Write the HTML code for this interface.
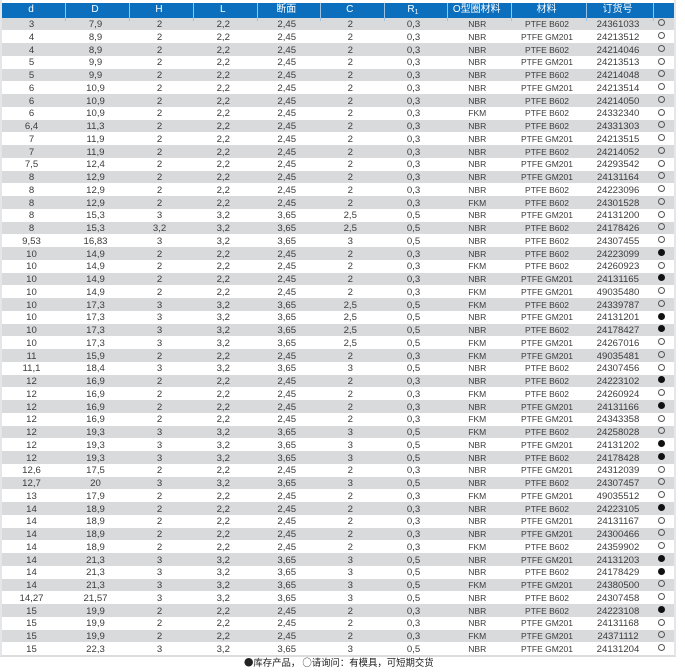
<!DOCTYPE html>
<html><head><meta charset="utf-8"><style>
*{margin:0;padding:0;box-sizing:border-box}
html,body{width:685px;height:672px;background:#fff;overflow:hidden}
body{position:relative;font-family:"Liberation Sans","Noto Sans CJK SC",sans-serif;color:#3c3c3c}
.frame{position:absolute;left:0;top:0;width:676px;height:657px;border-left:2px solid #e4e6ea;border-right:2px solid #e4e6ea;border-bottom:2px solid #dcdcdc}
.tbl{position:absolute;left:2px;top:3px;width:672px}
.r,.h{display:grid;grid-template-columns:64px 64px 64px 63.5px 63.5px 63.5px 63px 64.5px 75px 67px 20px}
.h{height:14.5px;background:#0b6fbe;color:#fff;font-size:10px;line-height:14.5px}
.h span{border-right:1px solid #9cc3e6;text-align:center;padding-right:5px;white-space:nowrap}
.h span:last-child{border-right:none}
.r{height:12.75px;line-height:12.75px;font-size:9.6px}
.r:nth-child(even){background:#d9dadb}
.r span{text-align:center;padding-right:5px;white-space:nowrap;position:relative;top:1.5px}
.r span:nth-child(8),.r span:nth-child(9){font-size:8.5px;top:0.7px}
.r span:nth-child(11){top:0}
.o,.f{display:inline-block;width:7px;height:7px;border-radius:50%;vertical-align:middle;margin-top:0}
.o{border:1px solid #555}
.f{background:#111}
sub{font-size:7px;vertical-align:-2px}
.foot{position:absolute;left:244px;top:655.5px;font-family:"Noto Sans CJK SC",sans-serif;font-size:9.4px;line-height:13px;color:#222;white-space:nowrap}
</style></head><body>
<div class="frame"></div>
<div class="tbl">
<div class="h"><span>d</span><span>D</span><span>H</span><span>L</span><span>断面</span><span>C</span><span>R<sub>1</sub></span><span>O型圈材料</span><span>材料</span><span>订货号</span><span></span></div>
<div class="r"><span>3</span><span>7,9</span><span>2</span><span>2,2</span><span>2,45</span><span>2</span><span>0,3</span><span>NBR</span><span>PTFE B602</span><span>24361033</span><span><b class="o"></b></span></div>
<div class="r"><span>4</span><span>8,9</span><span>2</span><span>2,2</span><span>2,45</span><span>2</span><span>0,3</span><span>NBR</span><span>PTFE GM201</span><span>24213512</span><span><b class="o"></b></span></div>
<div class="r"><span>4</span><span>8,9</span><span>2</span><span>2,2</span><span>2,45</span><span>2</span><span>0,3</span><span>NBR</span><span>PTFE B602</span><span>24214046</span><span><b class="o"></b></span></div>
<div class="r"><span>5</span><span>9,9</span><span>2</span><span>2,2</span><span>2,45</span><span>2</span><span>0,3</span><span>NBR</span><span>PTFE GM201</span><span>24213513</span><span><b class="o"></b></span></div>
<div class="r"><span>5</span><span>9,9</span><span>2</span><span>2,2</span><span>2,45</span><span>2</span><span>0,3</span><span>NBR</span><span>PTFE B602</span><span>24214048</span><span><b class="o"></b></span></div>
<div class="r"><span>6</span><span>10,9</span><span>2</span><span>2,2</span><span>2,45</span><span>2</span><span>0,3</span><span>NBR</span><span>PTFE GM201</span><span>24213514</span><span><b class="o"></b></span></div>
<div class="r"><span>6</span><span>10,9</span><span>2</span><span>2,2</span><span>2,45</span><span>2</span><span>0,3</span><span>NBR</span><span>PTFE B602</span><span>24214050</span><span><b class="o"></b></span></div>
<div class="r"><span>6</span><span>10,9</span><span>2</span><span>2,2</span><span>2,45</span><span>2</span><span>0,3</span><span>FKM</span><span>PTFE B602</span><span>24332340</span><span><b class="o"></b></span></div>
<div class="r"><span>6,4</span><span>11,3</span><span>2</span><span>2,2</span><span>2,45</span><span>2</span><span>0,3</span><span>NBR</span><span>PTFE B602</span><span>24331303</span><span><b class="o"></b></span></div>
<div class="r"><span>7</span><span>11,9</span><span>2</span><span>2,2</span><span>2,45</span><span>2</span><span>0,3</span><span>NBR</span><span>PTFE GM201</span><span>24213515</span><span><b class="o"></b></span></div>
<div class="r"><span>7</span><span>11,9</span><span>2</span><span>2,2</span><span>2,45</span><span>2</span><span>0,3</span><span>NBR</span><span>PTFE B602</span><span>24214052</span><span><b class="o"></b></span></div>
<div class="r"><span>7,5</span><span>12,4</span><span>2</span><span>2,2</span><span>2,45</span><span>2</span><span>0,3</span><span>NBR</span><span>PTFE GM201</span><span>24293542</span><span><b class="o"></b></span></div>
<div class="r"><span>8</span><span>12,9</span><span>2</span><span>2,2</span><span>2,45</span><span>2</span><span>0,3</span><span>NBR</span><span>PTFE GM201</span><span>24131164</span><span><b class="o"></b></span></div>
<div class="r"><span>8</span><span>12,9</span><span>2</span><span>2,2</span><span>2,45</span><span>2</span><span>0,3</span><span>NBR</span><span>PTFE B602</span><span>24223096</span><span><b class="o"></b></span></div>
<div class="r"><span>8</span><span>12,9</span><span>2</span><span>2,2</span><span>2,45</span><span>2</span><span>0,3</span><span>FKM</span><span>PTFE B602</span><span>24301528</span><span><b class="o"></b></span></div>
<div class="r"><span>8</span><span>15,3</span><span>3</span><span>3,2</span><span>3,65</span><span>2,5</span><span>0,5</span><span>NBR</span><span>PTFE GM201</span><span>24131200</span><span><b class="o"></b></span></div>
<div class="r"><span>8</span><span>15,3</span><span>3,2</span><span>3,2</span><span>3,65</span><span>2,5</span><span>0,5</span><span>NBR</span><span>PTFE B602</span><span>24178426</span><span><b class="o"></b></span></div>
<div class="r"><span>9,53</span><span>16,83</span><span>3</span><span>3,2</span><span>3,65</span><span>3</span><span>0,5</span><span>NBR</span><span>PTFE B602</span><span>24307455</span><span><b class="o"></b></span></div>
<div class="r"><span>10</span><span>14,9</span><span>2</span><span>2,2</span><span>2,45</span><span>2</span><span>0,3</span><span>NBR</span><span>PTFE B602</span><span>24223099</span><span><b class="f"></b></span></div>
<div class="r"><span>10</span><span>14,9</span><span>2</span><span>2,2</span><span>2,45</span><span>2</span><span>0,3</span><span>FKM</span><span>PTFE B602</span><span>24260923</span><span><b class="o"></b></span></div>
<div class="r"><span>10</span><span>14,9</span><span>2</span><span>2,2</span><span>2,45</span><span>2</span><span>0,3</span><span>NBR</span><span>PTFE GM201</span><span>24131165</span><span><b class="f"></b></span></div>
<div class="r"><span>10</span><span>14,9</span><span>2</span><span>2,2</span><span>2,45</span><span>2</span><span>0,3</span><span>FKM</span><span>PTFE GM201</span><span>49035480</span><span><b class="o"></b></span></div>
<div class="r"><span>10</span><span>17,3</span><span>3</span><span>3,2</span><span>3,65</span><span>2,5</span><span>0,5</span><span>FKM</span><span>PTFE B602</span><span>24339787</span><span><b class="o"></b></span></div>
<div class="r"><span>10</span><span>17,3</span><span>3</span><span>3,2</span><span>3,65</span><span>2,5</span><span>0,5</span><span>NBR</span><span>PTFE GM201</span><span>24131201</span><span><b class="f"></b></span></div>
<div class="r"><span>10</span><span>17,3</span><span>3</span><span>3,2</span><span>3,65</span><span>2,5</span><span>0,5</span><span>NBR</span><span>PTFE B602</span><span>24178427</span><span><b class="f"></b></span></div>
<div class="r"><span>10</span><span>17,3</span><span>3</span><span>3,2</span><span>3,65</span><span>2,5</span><span>0,5</span><span>FKM</span><span>PTFE GM201</span><span>24267016</span><span><b class="o"></b></span></div>
<div class="r"><span>11</span><span>15,9</span><span>2</span><span>2,2</span><span>2,45</span><span>2</span><span>0,3</span><span>FKM</span><span>PTFE GM201</span><span>49035481</span><span><b class="o"></b></span></div>
<div class="r"><span>11,1</span><span>18,4</span><span>3</span><span>3,2</span><span>3,65</span><span>3</span><span>0,5</span><span>NBR</span><span>PTFE B602</span><span>24307456</span><span><b class="o"></b></span></div>
<div class="r"><span>12</span><span>16,9</span><span>2</span><span>2,2</span><span>2,45</span><span>2</span><span>0,3</span><span>NBR</span><span>PTFE B602</span><span>24223102</span><span><b class="f"></b></span></div>
<div class="r"><span>12</span><span>16,9</span><span>2</span><span>2,2</span><span>2,45</span><span>2</span><span>0,3</span><span>FKM</span><span>PTFE B602</span><span>24260924</span><span><b class="o"></b></span></div>
<div class="r"><span>12</span><span>16,9</span><span>2</span><span>2,2</span><span>2,45</span><span>2</span><span>0,3</span><span>NBR</span><span>PTFE GM201</span><span>24131166</span><span><b class="f"></b></span></div>
<div class="r"><span>12</span><span>16,9</span><span>2</span><span>2,2</span><span>2,45</span><span>2</span><span>0,3</span><span>FKM</span><span>PTFE GM201</span><span>24343358</span><span><b class="o"></b></span></div>
<div class="r"><span>12</span><span>19,3</span><span>3</span><span>3,2</span><span>3,65</span><span>3</span><span>0,5</span><span>FKM</span><span>PTFE B602</span><span>24258028</span><span><b class="o"></b></span></div>
<div class="r"><span>12</span><span>19,3</span><span>3</span><span>3,2</span><span>3,65</span><span>3</span><span>0,5</span><span>NBR</span><span>PTFE GM201</span><span>24131202</span><span><b class="f"></b></span></div>
<div class="r"><span>12</span><span>19,3</span><span>3</span><span>3,2</span><span>3,65</span><span>3</span><span>0,5</span><span>NBR</span><span>PTFE B602</span><span>24178428</span><span><b class="f"></b></span></div>
<div class="r"><span>12,6</span><span>17,5</span><span>2</span><span>2,2</span><span>2,45</span><span>2</span><span>0,3</span><span>NBR</span><span>PTFE GM201</span><span>24312039</span><span><b class="o"></b></span></div>
<div class="r"><span>12,7</span><span>20</span><span>3</span><span>3,2</span><span>3,65</span><span>3</span><span>0,5</span><span>NBR</span><span>PTFE B602</span><span>24307457</span><span><b class="o"></b></span></div>
<div class="r"><span>13</span><span>17,9</span><span>2</span><span>2,2</span><span>2,45</span><span>2</span><span>0,3</span><span>FKM</span><span>PTFE GM201</span><span>49035512</span><span><b class="o"></b></span></div>
<div class="r"><span>14</span><span>18,9</span><span>2</span><span>2,2</span><span>2,45</span><span>2</span><span>0,3</span><span>NBR</span><span>PTFE B602</span><span>24223105</span><span><b class="f"></b></span></div>
<div class="r"><span>14</span><span>18,9</span><span>2</span><span>2,2</span><span>2,45</span><span>2</span><span>0,3</span><span>NBR</span><span>PTFE GM201</span><span>24131167</span><span><b class="o"></b></span></div>
<div class="r"><span>14</span><span>18,9</span><span>2</span><span>2,2</span><span>2,45</span><span>2</span><span>0,3</span><span>NBR</span><span>PTFE GM201</span><span>24300466</span><span><b class="o"></b></span></div>
<div class="r"><span>14</span><span>18,9</span><span>2</span><span>2,2</span><span>2,45</span><span>2</span><span>0,3</span><span>FKM</span><span>PTFE B602</span><span>24359902</span><span><b class="o"></b></span></div>
<div class="r"><span>14</span><span>21,3</span><span>3</span><span>3,2</span><span>3,65</span><span>3</span><span>0,5</span><span>NBR</span><span>PTFE GM201</span><span>24131203</span><span><b class="f"></b></span></div>
<div class="r"><span>14</span><span>21,3</span><span>3</span><span>3,2</span><span>3,65</span><span>3</span><span>0,5</span><span>NBR</span><span>PTFE B602</span><span>24178429</span><span><b class="f"></b></span></div>
<div class="r"><span>14</span><span>21,3</span><span>3</span><span>3,2</span><span>3,65</span><span>3</span><span>0,5</span><span>FKM</span><span>PTFE GM201</span><span>24380500</span><span><b class="o"></b></span></div>
<div class="r"><span>14,27</span><span>21,57</span><span>3</span><span>3,2</span><span>3,65</span><span>3</span><span>0,5</span><span>NBR</span><span>PTFE B602</span><span>24307458</span><span><b class="o"></b></span></div>
<div class="r"><span>15</span><span>19,9</span><span>2</span><span>2,2</span><span>2,45</span><span>2</span><span>0,3</span><span>NBR</span><span>PTFE B602</span><span>24223108</span><span><b class="f"></b></span></div>
<div class="r"><span>15</span><span>19,9</span><span>2</span><span>2,2</span><span>2,45</span><span>2</span><span>0,3</span><span>NBR</span><span>PTFE GM201</span><span>24131168</span><span><b class="o"></b></span></div>
<div class="r"><span>15</span><span>19,9</span><span>2</span><span>2,2</span><span>2,45</span><span>2</span><span>0,3</span><span>FKM</span><span>PTFE GM201</span><span>24371112</span><span><b class="o"></b></span></div>
<div class="r"><span>15</span><span>22,3</span><span>3</span><span>3,2</span><span>3,65</span><span>3</span><span>0,5</span><span>NBR</span><span>PTFE GM201</span><span>24131204</span><span><b class="o"></b></span></div>
</div>
<div class="foot">●库存产品， ○请询问：有模具，可短期交货</div>
</body></html>
